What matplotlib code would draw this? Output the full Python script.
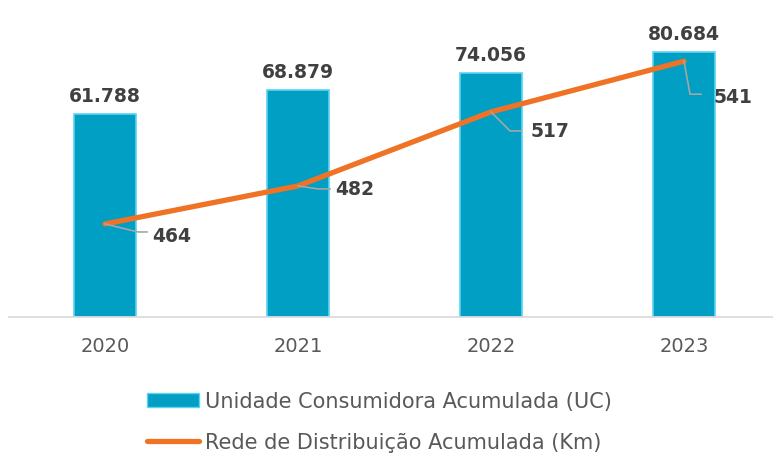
import matplotlib
matplotlib.use("Agg")
import matplotlib.pyplot as plt
from matplotlib.lines import Line2D
from matplotlib.patches import Patch

years = ["2020", "2021", "2022", "2023"]
uc_values = [61788, 68879, 74056, 80684]
uc_labels = ["61.788", "68.879", "74.056", "80.684"]
km_values = [464, 482, 517, 541]
km_labels = ["464", "482", "517", "541"]

W, H, DPI = 773, 456, 100
fig = plt.figure(figsize=(W / DPI, H / DPI), dpi=DPI)
left_px, right_px = 8.5, 780.5
base_px, top_px = 318, 22
ax = fig.add_axes([left_px / W, (H - base_px) / H, (right_px - left_px) / W, (base_px - top_px) / H])
ax2 = ax.twinx()

x = range(len(years))
bar_color = "#009FC3"
ax.bar(x, uc_values, width=0.32, color=bar_color, edgecolor="#5CD3F2", linewidth=1.2, zorder=2)
ax.set_ylim(0, 90000)
ax.set_xlim(-0.5, 3.5)
ax2.set_ylim(420, 560)

ax2.plot(x, km_values, color="#F07224", lw=3.8, solid_capstyle="round", zorder=3)

for xi, v, lab in zip(x, uc_values, uc_labels):
    ax.annotate(lab, (xi, v), xytext=(0, 9), textcoords="offset pixels",
                ha="center", va="bottom", fontsize=13.5, fontweight="bold", color="#404040")

leaders = [
    [(0, 0), (33, -8), (42, -8)],
    [(0, 0), (20, -3), (32, -3)],
    [(0, 0), (19, -19), (30, -19)],
    [(0, 0), (6, -33), (17, -33)],
]
text_off = [(47, -12), (37, -3), (40, -19), (30, -35)]

fig.canvas.draw()
for xi, v, lab, ld, to in zip(x, km_values, km_labels, leaders, text_off):
    px, py = ax2.transData.transform((xi, v))
    xs = [(px + dx) / W for dx, dy in ld]
    ys = [(py + dy) / H for dx, dy in ld]
    fig.add_artist(Line2D(xs, ys, transform=fig.transFigure, color="#A6A6A6", lw=1.2, zorder=4))
    fig.text((px + to[0]) / W, (py + to[1]) / H, lab, ha="left", va="center",
             fontsize=13.5, fontweight="bold", color="#404040")

for a in (ax, ax2):
    for s in a.spines.values():
        s.set_visible(False)
    a.set_yticks([])
ax.spines["bottom"].set_visible(True)
ax.spines["bottom"].set_color("#D9D9D9")
ax.spines["bottom"].set_linewidth(1.2)
ax.set_xticks(list(x))
ax.set_xticklabels(years, fontsize=14, color="#595959")
ax.tick_params(axis="x", length=0, pad=14)

handles = [Patch(facecolor=bar_color, edgecolor="#5CD3F2", label="Unidade Consumidora Acumulada (UC)"),
           Line2D([], [], color="#F07224", lw=3.8, solid_capstyle="round", label="Rede de Distribuição Acumulada (Km)")]
fig.legend(handles=handles, loc="upper left", bbox_to_anchor=(139 / W, 1 - 384 / H),
           frameon=False, prop={"size": 15}, labelcolor="#595959",
           handlelength=2.5, handleheight=0.6, handletextpad=0.25, labelspacing=1.0, borderaxespad=0)

fig.savefig("out.png", dpi=DPI)
